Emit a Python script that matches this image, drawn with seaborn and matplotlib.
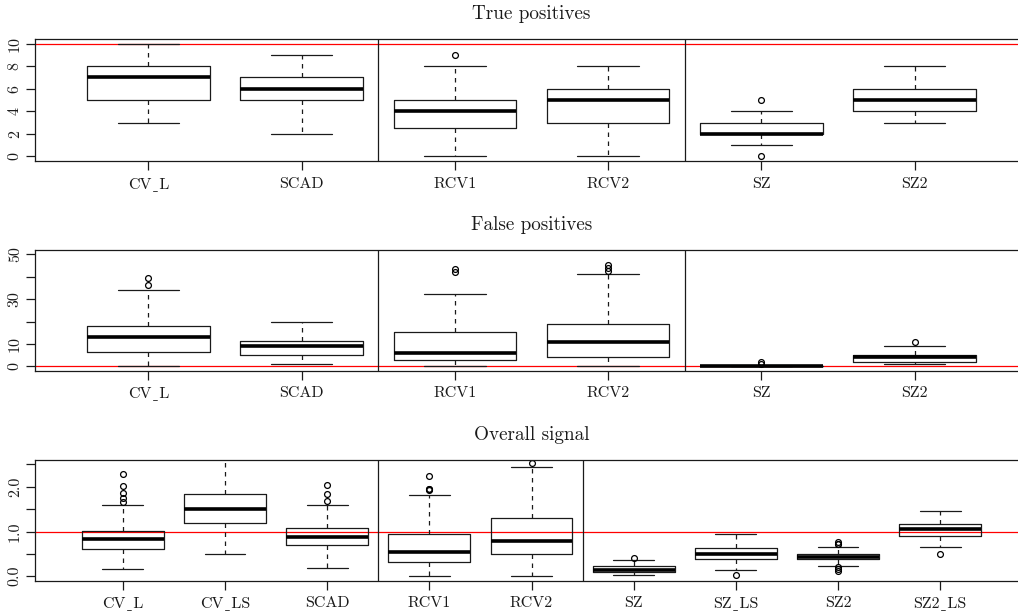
import matplotlib
matplotlib.use("Agg")
import matplotlib.pyplot as plt
import seaborn as sns

# ---- summary statistics per method -------------------------------------
# Panel 1: true positives
tp_labels = ["CVˍL", "SCAD", "RCV1", "RCV2", "SZ", "SZ2"]
tp_q1 = [5, 5, 2.5, 3, 2, 4]
tp_med = [7, 6, 4, 5, 2, 5]
tp_q3 = [8, 7, 5, 6, 3, 6]
tp_lo = [3, 2, 0, 0, 1, 3]
tp_hi = [10, 9, 8, 8, 4, 8]
tp_out = [[], [], [9], [], [0, 5], []]

# Panel 2: false positives
fp_labels = ["CVˍL", "SCAD", "RCV1", "RCV2", "SZ", "SZ2"]
fp_q1 = [6.4, 5.1, 2.8, 4, 0, 2]
fp_med = [13.1, 9.1, 6, 11, 0, 4.2]
fp_q3 = [18.1, 11.5, 15.1, 19, 0, 5.2]
fp_lo = [0, 1, 0, 0, 0, 1]
fp_hi = [34.2, 20, 32.1, 41.2, 0, 9]
fp_out = [[36.3, 39.3], [], [42.2, 43.7], [42.7, 43.9, 45.4], [1, 2], [11]]

# Panel 3: overall signal
os_labels = ["CVˍL", "CVˍLS", "SCAD", "RCV1", "RCV2",
             "SZ", "SZˍLS", "SZ2", "SZ2ˍLS"]
os_q1 = [0.60, 1.18, 0.69, 0.32, 0.50, 0.09, 0.38, 0.38, 0.90]
os_med = [0.84, 1.50, 0.87, 0.545, 0.78, 0.15, 0.49, 0.44, 1.05]
os_q3 = [1.02, 1.85, 1.07, 0.95, 1.31, 0.22, 0.64, 0.50, 1.16]
os_lo = [0.17, 0.50, 0.19, 0.00, 0.00, 0.03, 0.14, 0.24, 0.66]
os_hi = [1.60, 2.80, 1.59, 1.81, 2.44, 0.37, 0.94, 0.66, 1.47]
os_out = [[1.66, 1.75, 1.87, 2.02, 2.28], [], [1.68, 1.84, 2.04],
          [1.93, 1.95, 1.96, 2.24], [2.53], [0.41], [0.02],
          [0.11, 0.16, 0.20, 0.71, 0.73, 0.76], [0.49]]

titles = ["True positives", "False positives", "Overall signal"]
ref_levels = [10, 0, 1.0]

# ---- style ---------------------------------------------------------------
sns.set_theme(style="ticks")
plt.rcParams["font.family"] = ["cmr10", "DejaVu Serif"]
plt.rcParams["axes.formatter.use_mathtext"] = True
plt.rcParams["mathtext.fontset"] = "cm"

W, H = 1018, 616
fig = plt.figure(figsize=(W / 100, H / 100), dpi=100)
fig.patch.set_facecolor("white")

ink = "#1a1a1a"


def make_axes(top, bottom, left=35, right=1028):
    return fig.add_axes([left / W, 1 - bottom / H, (right - left) / W,
                         (bottom - top) / H])


def draw_panel(ax, labels, q1, med, q3, lo, hi, out, seps, ylim,
               yticks, yticklabels, title, ref):
    stats = []
    for i, lab in enumerate(labels):
        stats.append(dict(label=lab, q1=q1[i], med=med[i], q3=q3[i],
                          whislo=lo[i], whishi=hi[i], fliers=out[i]))
    n = len(labels)
    pos = list(range(1, n + 1))
    ax.axhline(ref, color="red", lw=0.9, zorder=1)
    ax.bxp(stats, positions=pos, widths=0.8, showfliers=True,
           patch_artist=False,
           boxprops=dict(color=ink, lw=0.9),
           medianprops=dict(color="black", lw=2.6, solid_capstyle="butt"),
           whiskerprops=dict(color=ink, lw=0.9, linestyle=(0, (3.6, 3.6))),
           capprops=dict(color=ink, lw=0.9),
           flierprops=dict(marker="o", markerfacecolor="none",
                           markeredgecolor="black", markersize=4.2,
                           markeredgewidth=0.9))
    for s in seps:
        ax.axvline(s, color=ink, lw=0.9, zorder=3)
    span = n + 0.5 - 0.5
    ax.set_xlim(0.5 - 0.04 * span, n + 0.5 + 0.04 * span)
    ax.set_ylim(*ylim)
    ax.set_xticks(pos)
    ax.set_xticklabels(labels, fontsize=11.5, color=ink)
    ax.set_yticks(yticks)
    ax.set_yticklabels(yticklabels, fontsize=11.5, rotation=90,
                       va="center", color=ink)
    ax.tick_params(axis="x", length=6.5, width=0.9, pad=5, color=ink)
    ax.tick_params(axis="y", length=6.5, width=0.9, pad=3, color=ink)
    for side in ["left", "top", "bottom"]:
        ax.spines[side].set_color(ink)
        ax.spines[side].set_linewidth(0.9)
    ax.spines["right"].set_visible(False)
    ax.set_title(title, fontsize=13.8, pad=14.5, color=ink)


ax1 = make_axes(39, 161)
draw_panel(ax1, tp_labels, tp_q1, tp_med, tp_q3, tp_lo, tp_hi, tp_out,
           [2.5, 4.5], (-0.4, 10.4), [0, 2, 4, 6, 8, 10],
           ["0", "2", "4", "6", "8", "10"], titles[0], ref_levels[0])

ax2 = make_axes(250, 370.7)
draw_panel(ax2, fp_labels, fp_q1, fp_med, fp_q3, fp_lo, fp_hi, fp_out,
           [2.5, 4.5], (-2, 52), [0, 10, 20, 30, 40, 50],
           ["0", "10", "", "30", "", "50"], titles[1], ref_levels[1])

ax3 = make_axes(460, 580.7)
draw_panel(ax3, os_labels, os_q1, os_med, os_q3, os_lo, os_hi, os_out,
           [3.5, 5.5], (-0.1, 2.6), [0, 0.5, 1.0, 1.5, 2.0, 2.5],
           ["0.0", "", "1.0", "", "2.0", ""], titles[2], ref_levels[2])

fig.savefig("out.png", dpi=100, facecolor="white")
